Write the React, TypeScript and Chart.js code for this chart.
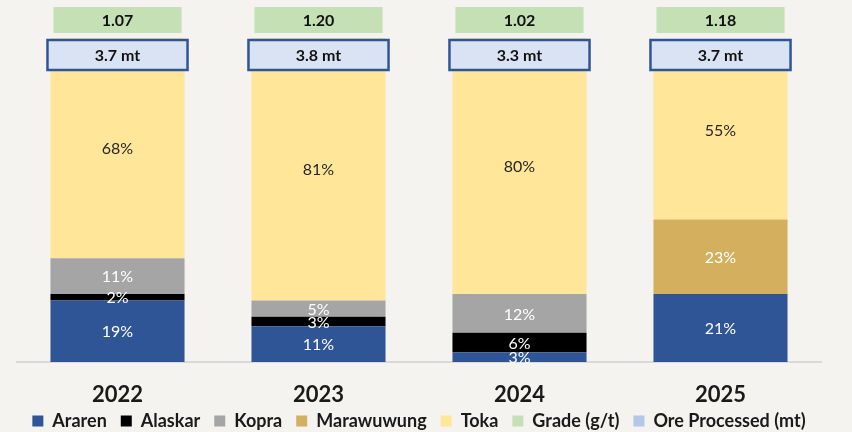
import React, { useEffect, useRef } from "react";
import { Chart, registerables } from "chart.js";

Chart.register(...registerables);

const years = ["2022", "2023", "2024", "2025"];
const araren = [19, 11, 3, 21];
const alaskar = [2, 3, 6, null];
const kopra = [11, 5, 12, null];
const marawuwung = [null, null, null, 23];
const toka = [68, 81, 80, 55];
const grade = ["1.07", "1.20", "1.02", "1.18"];
const oreProcessed = ["3.7", "3.8", "3.3", "3.7"];

const FONT = "Lato, 'Open Sans', sans-serif";
const BG = "#F4F3EF";

const labelColors = ["#FFFFFF", "#FFFFFF", "#FFFFFF", "#FFFFFF", "#262626"];

const segmentLabels = {
  id: "segmentLabels",
  afterDatasetsDraw(chart: any) {
    const ctx = chart.ctx;
    ctx.save();
    ctx.font = `16px ${FONT}`;
    ctx.textAlign = "center";
    ctx.textBaseline = "middle";
    chart.data.datasets.forEach((ds: any, di: number) => {
      const meta = chart.getDatasetMeta(di);
      meta.data.forEach((el: any, i: number) => {
        const v = ds.data[i];
        if (v === null || v === undefined) return;
        const top = Math.max(el.y, chart.chartArea.top);
        const y = (top + el.base) / 2;
        ctx.fillStyle = labelColors[di];
        ctx.fillText(`${v}%`, el.x, y + 1);
      });
    });
    ctx.restore();
  },
};

const topBoxes = {
  id: "topBoxes",
  afterDraw(chart: any) {
    const ctx = chart.ctx;
    const meta = chart.getDatasetMeta(0);
    const top = chart.chartArea.top;
    ctx.save();
    ctx.textAlign = "center";
    ctx.textBaseline = "middle";
    meta.data.forEach((el: any, i: number) => {
      const w = el.width;
      const cx = el.x;
      const ow = w + 6;
      const oy = top + 2;
      const oh = 30;
      ctx.fillStyle = "#DAE3F3";
      ctx.fillRect(cx - ow / 2, oy, ow, oh);
      ctx.strokeStyle = "#2F5597";
      ctx.lineWidth = 2.5;
      ctx.strokeRect(cx - ow / 2, oy, ow, oh);
      ctx.fillStyle = "#111111";
      ctx.font = `bold 16px ${FONT}`;
      ctx.fillText(`${oreProcessed[i]} mt`, cx, oy + oh / 2 + 1);
      const gw = w - 6;
      const gy = top - 31;
      const gh = 26;
      ctx.fillStyle = "#C5E0B4";
      ctx.fillRect(cx - gw / 2, gy, gw, gh);
      ctx.fillStyle = "#111111";
      ctx.fillText(grade[i], cx, gy + gh / 2 + 1);
    });
    ctx.restore();
  },
};

const bgPlugin = {
  id: "bgFill",
  beforeDraw(chart: any) {
    const ctx = chart.ctx;
    ctx.save();
    ctx.fillStyle = BG;
    ctx.fillRect(0, 0, chart.width, chart.height);
    ctx.restore();
  },
};

// let x tick labels extend below the (short) x scale box without being clipped
const unclipTicks = {
  id: "unclipTicks",
  afterLayout(chart: any) {
    const x = chart.scales.x;
    if (x) x.bottom = chart.height;
  },
};

export default function App() {
  const ref = useRef<HTMLCanvasElement>(null);
  useEffect(() => {
    if (!ref.current) return;
    const chart = new Chart(ref.current, {
      type: "bar",
      data: {
        labels: years,
        datasets: [
          { label: "Araren", data: araren, backgroundColor: "#2F5597" },
          { label: "Alaskar", data: alaskar, backgroundColor: "#000000" },
          { label: "Kopra", data: kopra, backgroundColor: "#A5A5A5" },
          { label: "Marawuwung", data: marawuwung, backgroundColor: "#D4AF5E" },
          { label: "Toka", data: toka, backgroundColor: "#FFE699" },
        ],
      },
      options: {
        animation: false,
        responsive: false,
        devicePixelRatio: 1,
        layout: { padding: { left: 17, right: 31, top: 38, bottom: 0 } },
        datasets: {
          bar: {
            barPercentage: 0.667,
            categoryPercentage: 1,
            borderWidth: 0,
          },
        },
        scales: {
          x: {
            stacked: true,
            grid: { display: false, drawTicks: false },
            border: { display: true, color: "#D9D9D9", width: 2 },
            ticks: {
              color: "#1A1A1A",
              font: { family: FONT, size: 22, weight: "bold" },
              padding: 20,
            },
            afterFit: (scale: any) => {
              scale.height = 36;
            },
          },
          y: {
            stacked: true,
            display: false,
            min: 0,
            max: 100,
          },
        },
        plugins: {
          tooltip: { enabled: false },
          legend: {
            position: "bottom",
            maxHeight: 34,
            labels: {
              color: "#1A1A1A",
              font: { family: FONT, size: 18, weight: "bold" },
              boxWidth: 11,
              boxHeight: 11,
              padding: 14,
              generateLabels: (c: any) => {
                const items = Chart.defaults.plugins.legend.labels.generateLabels(c);
                items.forEach((it: any) => {
                  it.lineWidth = 0;
                });
                items.push({
                  text: "Grade (g/t)",
                  fillStyle: "#C5E0B4",
                  strokeStyle: "#C5E0B4",
                  lineWidth: 0,
                  hidden: false,
                  datasetIndex: 100,
                } as any);
                items.push({
                  text: "Ore Processed (mt)",
                  fillStyle: "#B4C7E7",
                  strokeStyle: "#B4C7E7",
                  lineWidth: 0,
                  hidden: false,
                  datasetIndex: 101,
                } as any);
                return items;
              },
            },
          },
        },
      },
      plugins: [bgPlugin, unclipTicks, segmentLabels, topBoxes],
    });
    return () => chart.destroy();
  }, []);
  return (
    <div
      style={{
        position: "fixed",
        left: 0,
        top: 0,
        width: 852,
        height: 432,
        background: BG,
      }}
    >
      <canvas ref={ref} width={852} height={432} style={{ display: "block" }} />
    </div>
  );
}
